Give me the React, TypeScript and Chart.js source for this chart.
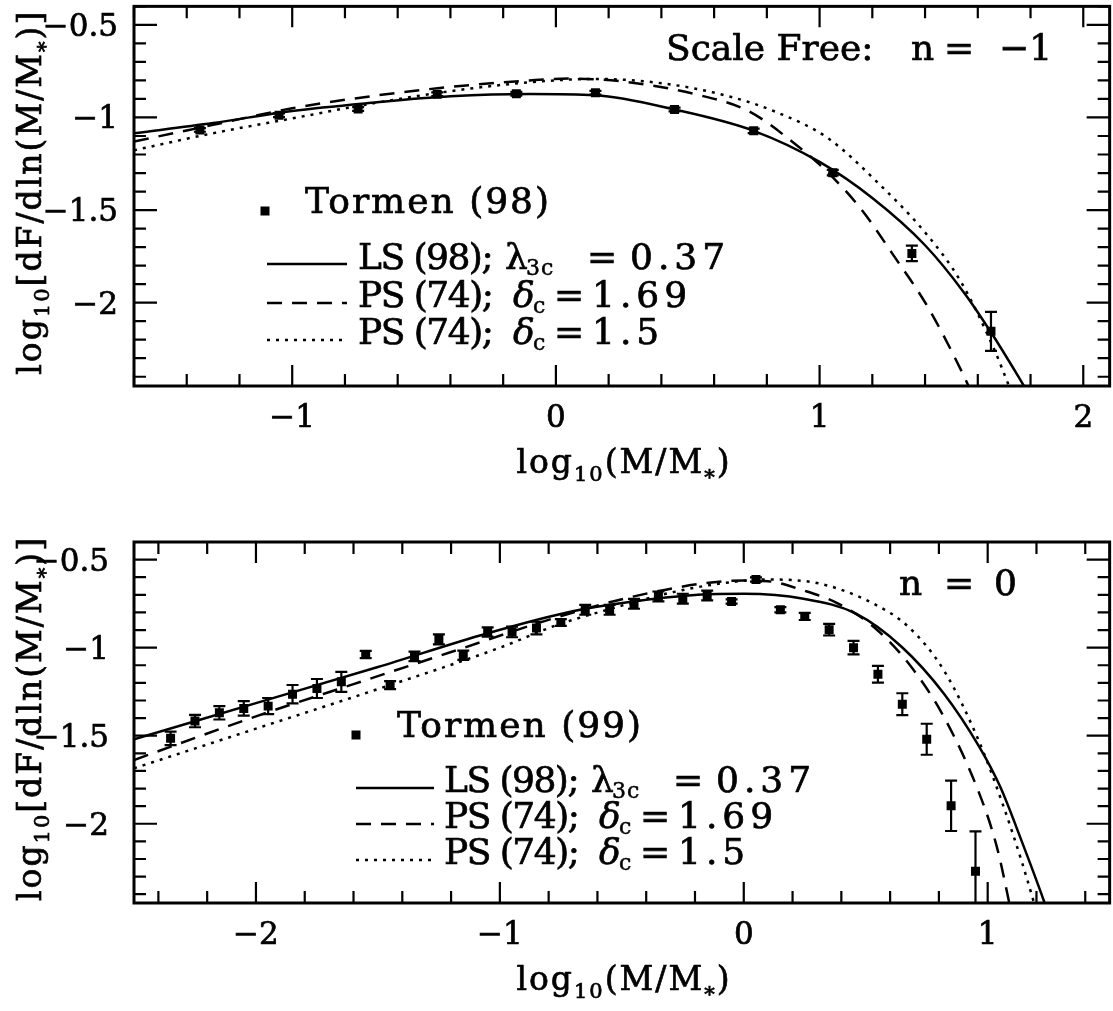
import React, { useEffect, useRef } from "react";
import { Chart, registerables } from "chart.js";

Chart.register(...registerables);

// ---------------- Top panel: scale free, n = -1 ----------------
const TOP_TORMEN_X = [-1.35, -1.05, -0.75, -0.45, -0.15, 0.15, 0.45, 0.75, 1.05, 1.35, 1.65];
const TOP_TORMEN_Y = [-1.067, -0.988, -0.954, -0.875, -0.872, -0.866, -0.957, -1.072, -1.298, -1.734, -2.155];
const TOP_TORMEN_ERR = [0.01, 0.01, 0.01, 0.01, 0.01, 0.01, 0.01, 0.012, 0.015, 0.042, 0.105];

const TOP_LS_X = [-1.6, -1.3, -1.0, -0.7, -0.4, -0.1, 0.15, 0.45, 0.75, 1.0, 1.2, 1.4, 1.55, 1.65, 1.75, 1.8];
const TOP_LS_Y = [-1.085, -1.03, -0.965, -0.921, -0.886, -0.873, -0.88, -0.957, -1.072, -1.24, -1.435, -1.69, -1.95, -2.16, -2.39, -2.51];

const TOP_PS169_X = [-1.6, -1.3, -1.0, -0.7, -0.4, -0.1, 0.05, 0.25, 0.53, 0.73, 0.9, 1.03, 1.157, 1.283, 1.409, 1.535, 1.6];
const TOP_PS169_Y = [-1.13, -1.04, -0.95, -0.885, -0.835, -0.8, -0.79, -0.805, -0.875, -0.965, -1.135, -1.295, -1.494, -1.75, -2.02, -2.36, -2.56];

const TOP_PS15_X = [-1.6, -1.3, -1.0, -0.7, -0.4, -0.1, 0.15, 0.4, 0.654, 0.843, 1.031, 1.22, 1.409, 1.535, 1.66, 1.717, 1.76];
const TOP_PS15_Y = [-1.177, -1.085, -1.005, -0.925, -0.858, -0.81, -0.792, -0.815, -0.885, -0.975, -1.111, -1.351, -1.636, -1.885, -2.245, -2.445, -2.6];

// ---------------- Bottom panel: n = 0 ----------------
const BOT_TORMEN_X = [-2.35, -2.25, -2.15, -2.05, -1.95, -1.85, -1.75, -1.65, -1.55, -1.45, -1.35, -1.25, -1.15, -1.05, -0.95, -0.85, -0.75, -0.65, -0.55, -0.45, -0.35, -0.25, -0.15, -0.05, 0.05, 0.15, 0.25, 0.35, 0.45, 0.55, 0.65, 0.75, 0.85, 0.95];
const BOT_TORMEN_Y = [-1.515, -1.417, -1.37, -1.345, -1.332, -1.264, -1.232, -1.194, -1.039, -1.213, -1.049, -0.953, -1.043, -0.911, -0.911, -0.889, -0.857, -0.785, -0.785, -0.751, -0.709, -0.722, -0.704, -0.738, -0.613, -0.785, -0.823, -0.898, -1.0, -1.151, -1.321, -1.52, -1.898, -2.27];
const BOT_TORMEN_ERR = [0.038, 0.035, 0.038, 0.041, 0.046, 0.052, 0.054, 0.057, 0.021, 0.023, 0.027, 0.028, 0.026, 0.026, 0.03, 0.036, 0.019, 0.028, 0.028, 0.028, 0.028, 0.028, 0.028, 0.012, 0.012, 0.015, 0.02, 0.033, 0.038, 0.047, 0.062, 0.088, 0.143, 0.227];

const BOT_LS_X = [-2.5, -2.0, -1.5, -1.05, -0.702, -0.476, -0.188, 0, 0.245, 0.46, 0.648, 0.82, 0.965, 1.051, 1.137, 1.231, 1.26];
const BOT_LS_Y = [-1.52, -1.315, -1.11, -0.918, -0.793, -0.742, -0.7, -0.694, -0.722, -0.807, -0.996, -1.26, -1.562, -1.789, -2.09, -2.44, -2.56];

const BOT_PS169_X = [-2.5, -2.0, -1.6, -1.2, -0.763, -0.476, -0.159, 0, 0.1, 0.245, 0.389, 0.533, 0.676, 0.82, 0.965, 1.037, 1.087, 1.1];
const BOT_PS169_Y = [-1.638, -1.39, -1.207, -1.025, -0.826, -0.717, -0.634, -0.619, -0.623, -0.675, -0.751, -0.883, -1.09, -1.392, -1.826, -2.128, -2.44, -2.53];

const BOT_PS15_X = [-2.5, -2.0, -1.5, -1.0, -0.763, -0.547, -0.331, -0.116, 0.1, 0.317, 0.533, 0.676, 0.82, 0.965, 1.065, 1.137, 1.188, 1.21];
const BOT_PS15_Y = [-1.685, -1.46, -1.235, -1.0, -0.87, -0.78, -0.698, -0.64, -0.613, -0.638, -0.751, -0.883, -1.128, -1.534, -1.902, -2.203, -2.44, -2.55];

// ---------------- axes / ticks / text ----------------
const TOP_X_RANGE = [-1.6, 2.1];
const BOT_X_RANGE = [-2.5, 1.5];
const Y_RANGE = [-2.45, -0.4];
const TOP_X_TICKS = [-1, 0, 1, 2];
const TOP_X_LABELS = ["−1", "0", "1", "2"];
const BOT_X_TICKS = [-2, -1, 0, 1];
const BOT_X_LABELS = ["−2", "−1", "0", "1"];
const Y_TICKS = [-0.5, -1, -1.5, -2];
const Y_LABELS = ["−0.5", "−1", "−1.5", "−2"];

const TOP_LEGEND = ["Tormen (98)", "LS (98);", "PS (74);", "PS (74);"];
const BOT_LEGEND = ["Tormen (99)", "LS (98);", "PS (74);", "PS (74);"];
const LEGEND_SYMBOLS = ["λ", "δ", "δ"];
const LEGEND_SUBS = ["3c", "c", "c"];
const LEGEND_VALUES = ["0.37", "1.69", "1.5"];
const TOP_NOTE = ["Scale Free:", "n", "=", "−1"];
const BOT_NOTE = ["n", "=", "0"];

const SERIF = '"DejaVu Serif", "Liberation Serif", serif';

type Run = { t: string; sub?: boolean; drop?: number };

function setFont(ctx: any, size: number, italic = false) {
  ctx.font = `${italic ? "italic " : ""}${size}px ${SERIF}`;
}

function put(ctx: any, t: string, x: number, y: number, weight = 0.7) {
  ctx.fillText(t, x, y);
  ctx.lineWidth = weight;
  ctx.strokeText(t, x, y);
}

function runWidth(ctx: any, run: Run[], size: number, subSize: number, spacing: number) {
  let w = 0;
  for (const r of run) {
    setFont(ctx, r.sub ? subSize : size);
    ctx.letterSpacing = `${spacing}px`;
    w += ctx.measureText(r.t).width;
  }
  return w;
}

function drawRun(ctx: any, run: Run[], x: number, y: number, size: number, subSize: number, spacing: number) {
  let cx = x;
  for (const r of run) {
    setFont(ctx, r.sub ? subSize : size);
    ctx.letterSpacing = `${spacing}px`;
    put(ctx, r.t, cx, y + (r.sub ? r.drop ?? 8 : 0));
    cx += ctx.measureText(r.t).width;
  }
}

const X_TITLE: Run[] = [
  { t: "log" },
  { t: "10", sub: true, drop: 8 },
  { t: "(M/M" },
  { t: "*", sub: true, drop: 11 },
  { t: ")" },
];
const Y_TITLE: Run[] = [
  { t: "log" },
  { t: "10", sub: true, drop: 8 },
  { t: "[dF/dln(M/M" },
  { t: "*", sub: true, drop: 11 },
  { t: ")]" },
];

interface Spec {
  off: number;
  xTicks: number[];
  xLabels: string[];
  yLabelRight: number;
  px: number[];
  py: number[];
  pe: number[];
  legendText: string[];
  markerX: number;
  markerY: number;
  tormenX: number;
  tormenBase: number;
  lineX0: number;
  lineX1: number;
  rowY: number[];
  rowBase: number[];
  rowX: number;
  note: { t: string; x: number }[];
  noteBase: number;
  xTitleCenter: number;
}

// horizontal offsets of legend row pieces, relative to the row start
const ROW_OFFSETS = [
  { sym: 147, sub: 168, eq: 229, val: 272 },
  { sym: 155, sub: 175, eq: 196, val: 234 },
  { sym: 155, sub: 175, eq: 196, val: 234 },
];

function framePlugin(s: Spec) {
  return {
    id: "frame",
    afterDatasetsDraw(chart: any) {
      const { ctx, chartArea: a, scales } = chart;
      const xs = scales.x;
      const ys = scales.y;
      ctx.save();
      ctx.beginPath();
      ctx.rect(a.left, a.top, a.right - a.left, a.bottom - a.top);
      ctx.clip();
      ctx.strokeStyle = "#000";
      ctx.lineWidth = 2.2;
      ctx.beginPath();
      for (let i = 0; i < s.px.length; i++) {
        const X = xs.getPixelForValue(s.px[i]);
        const y1 = ys.getPixelForValue(s.py[i] + s.pe[i]);
        const y2 = ys.getPixelForValue(s.py[i] - s.pe[i]);
        ctx.moveTo(X, y1);
        ctx.lineTo(X, y2);
        ctx.moveTo(X - 6, y1);
        ctx.lineTo(X + 6, y1);
        ctx.moveTo(X - 6, y2);
        ctx.lineTo(X + 6, y2);
      }
      ctx.stroke();
      ctx.restore();
    },
    afterDraw(chart: any) {
      const { ctx, chartArea: a, scales } = chart;
      const xs = scales.x;
      const ys = scales.y;
      const o = s.off;
      ctx.save();
      ctx.strokeStyle = "#000";
      ctx.fillStyle = "#000";
      // frame
      ctx.lineWidth = 3;
      ctx.strokeRect(a.left, a.top, a.right - a.left, a.bottom - a.top);
      // ticks
      ctx.lineWidth = 2.2;
      ctx.beginPath();
      for (let k = Math.ceil(xs.min / 0.2 - 1e-6); k <= Math.floor(xs.max / 0.2 + 1e-6); k++) {
        const X = xs.getPixelForValue(k * 0.2);
        const len = Math.abs(k % 5) === 0 ? 21 : 12;
        ctx.moveTo(X, a.bottom);
        ctx.lineTo(X, a.bottom - len);
        ctx.moveTo(X, a.top);
        ctx.lineTo(X, a.top + len);
      }
      for (let k = Math.ceil(ys.min / 0.1 - 1e-6); k <= Math.floor(ys.max / 0.1 + 1e-6); k++) {
        const Y = ys.getPixelForValue(k * 0.1);
        const len = Math.abs(k % 5) === 0 ? 23 : 12;
        ctx.moveTo(a.left, Y);
        ctx.lineTo(a.left + len, Y);
        ctx.moveTo(a.right, Y);
        ctx.lineTo(a.right - len, Y);
      }
      ctx.stroke();
      // tick labels
      ctx.letterSpacing = "0px";
      setFont(ctx, 31);
      ctx.textBaseline = "alphabetic";
      ctx.textAlign = "center";
      s.xTicks.forEach((v, i) => {
        put(ctx, s.xLabels[i], xs.getPixelForValue(v), a.bottom + 41);
      });
      ctx.textAlign = "right";
      Y_TICKS.forEach((v, i) => {
        put(ctx, Y_LABELS[i], s.yLabelRight, ys.getPixelForValue(v) + 11);
      });
      ctx.textAlign = "left";
      // x title
      const tw = runWidth(ctx, X_TITLE, 33, 21, 2);
      drawRun(ctx, X_TITLE, s.xTitleCenter - tw / 2, a.bottom + 87, 33, 21, 2);
      // y title (rotated)
      const yw = runWidth(ctx, Y_TITLE, 33, 21, 2);
      ctx.save();
      ctx.translate(41, (a.top + a.bottom) / 2 - 4);
      ctx.rotate(-Math.PI / 2);
      drawRun(ctx, Y_TITLE, -yw / 2, 0, 33, 21, 2);
      ctx.restore();
      // note
      setFont(ctx, 36);
      ctx.letterSpacing = "0px";
      s.note.forEach((n) => put(ctx, n.t, n.x, s.noteBase - o));
      // legend: data points
      ctx.fillRect(s.markerX - 4.5, s.markerY - 4.5 - o, 9, 9);
      setFont(ctx, 36);
      ctx.letterSpacing = "2px";
      put(ctx, s.legendText[0], s.tormenX, s.tormenBase - o);
      // legend: curves
      const dashes = [[], [15, 10], [3, 6]];
      for (let r = 0; r < 3; r++) {
        ctx.lineWidth = 2.5;
        ctx.lineCap = "butt";
        ctx.setLineDash(dashes[r]);
        ctx.beginPath();
        ctx.moveTo(s.lineX0, s.rowY[r] - o);
        ctx.lineTo(s.lineX1, s.rowY[r] - o);
        ctx.stroke();
        ctx.setLineDash([]);
        const b = s.rowBase[r] - o;
        const off = ROW_OFFSETS[r];
        setFont(ctx, 36);
        ctx.letterSpacing = "-1.5px";
        put(ctx, s.legendText[r + 1], s.rowX, b);
        ctx.letterSpacing = "0px";
        setFont(ctx, 36, r > 0);
        put(ctx, LEGEND_SYMBOLS[r], s.rowX + off.sym, b);
        setFont(ctx, 22);
        ctx.letterSpacing = "1px";
        put(ctx, LEGEND_SUBS[r], s.rowX + off.sub, b + 6, 0.5);
        setFont(ctx, 36);
        ctx.letterSpacing = "0px";
        put(ctx, "=", s.rowX + off.eq, b);
        ctx.letterSpacing = "5px";
        put(ctx, LEGEND_VALUES[r], s.rowX + off.val, b);
      }
      ctx.restore();
    },
  };
}

function pts(xs: number[], ys: number[]) {
  return xs.map((x, i) => ({ x, y: ys[i] }));
}

function buildConfig(
  s: Spec,
  xr: number[],
  pad: { left: number; right: number; top: number; bottom: number },
  curves: { x: number[]; y: number[] }[]
): any {
  const curveDash = [[], [15, 10], [3, 6]];
  return {
    type: "scatter",
    data: {
      datasets: [
        ...curves.map((c, i) => ({
          label: ["LS", "PS169", "PS15"][i],
          data: pts(c.x, c.y),
          showLine: true,
          pointRadius: 0,
          borderColor: "#000",
          backgroundColor: "#000",
          borderWidth: 2.5,
          borderCapStyle: "butt",
          borderDash: curveDash[i],
          cubicInterpolationMode: "monotone",
        })),
        {
          label: "Tormen",
          data: pts(s.px, s.py),
          showLine: false,
          pointStyle: "rect",
          pointRadius: 6.36,
          borderWidth: 0,
          backgroundColor: "#000",
          borderColor: "#000",
        },
      ],
    },
    options: {
      animation: false,
      responsive: false,
      maintainAspectRatio: false,
      devicePixelRatio: 1,
      events: [],
      layout: { padding: pad },
      scales: {
        x: { type: "linear", min: xr[0], max: xr[1], display: false },
        y: { type: "linear", min: Y_RANGE[0], max: Y_RANGE[1], display: false },
      },
      plugins: { legend: { display: false }, tooltip: { enabled: false } },
    },
    plugins: [framePlugin(s)],
  };
}

const TOP_SPEC: Spec = {
  off: 0,
  xTicks: TOP_X_TICKS,
  xLabels: TOP_X_LABELS,
  yLabelRight: 118,
  px: TOP_TORMEN_X,
  py: TOP_TORMEN_Y,
  pe: TOP_TORMEN_ERR,
  legendText: TOP_LEGEND,
  markerX: 265,
  markerY: 211,
  tormenX: 305,
  tormenBase: 213,
  lineX0: 267,
  lineX1: 347,
  rowY: [264, 303, 340],
  rowBase: [269, 307, 344],
  rowX: 358,
  note: [
    { t: TOP_NOTE[0], x: 666 },
    { t: TOP_NOTE[1], x: 911 },
    { t: TOP_NOTE[2], x: 944 },
    { t: TOP_NOTE[3], x: 999 },
  ],
  noteBase: 60,
  xTitleCenter: 624,
};

const BOT_SPEC: Spec = {
  off: 500,
  xTicks: BOT_X_TICKS,
  xLabels: BOT_X_LABELS,
  yLabelRight: 109,
  px: BOT_TORMEN_X,
  py: BOT_TORMEN_Y,
  pe: BOT_TORMEN_ERR,
  legendText: BOT_LEGEND,
  markerX: 356,
  markerY: 735,
  tormenX: 397,
  tormenBase: 737,
  lineX0: 356,
  lineX1: 434,
  rowY: [788, 824, 860],
  rowBase: [792, 828, 864],
  rowX: 444,
  note: [
    { t: BOT_NOTE[0], x: 899 },
    { t: BOT_NOTE[1], x: 944 },
    { t: BOT_NOTE[2], x: 994 },
  ],
  noteBase: 595,
  xTitleCenter: 624,
};

export default function App() {
  const topRef = useRef<HTMLCanvasElement>(null);
  const botRef = useRef<HTMLCanvasElement>(null);

  useEffect(() => {
    document.body.style.margin = "0";
    const c1 = new Chart(
      topRef.current as HTMLCanvasElement,
      buildConfig(TOP_SPEC, TOP_X_RANGE, { left: 134, right: 1, top: 1.5, bottom: 114 }, [
        { x: TOP_LS_X, y: TOP_LS_Y },
        { x: TOP_PS169_X, y: TOP_PS169_Y },
        { x: TOP_PS15_X, y: TOP_PS15_Y },
      ])
    );
    const c2 = new Chart(
      botRef.current as HTMLCanvasElement,
      buildConfig(BOT_SPEC, BOT_X_RANGE, { left: 134, right: 1, top: 42, bottom: 108 }, [
        { x: BOT_LS_X, y: BOT_LS_Y },
        { x: BOT_PS169_X, y: BOT_PS169_Y },
        { x: BOT_PS15_X, y: BOT_PS15_Y },
      ])
    );
    return () => {
      c1.destroy();
      c2.destroy();
    };
  }, []);

  return (
    <div
      style={{
        position: "absolute",
        left: 0,
        top: 0,
        width: 1113,
        height: 1011,
        overflow: "hidden",
        background: "#fff",
      }}
    >
      <canvas
        ref={topRef}
        width={1116}
        height={500}
        style={{ position: "absolute", left: 0, top: 0, width: 1116, height: 500 }}
      />
      <canvas
        ref={botRef}
        width={1116}
        height={511}
        style={{ position: "absolute", left: 0, top: 500, width: 1116, height: 511 }}
      />
    </div>
  );
}
